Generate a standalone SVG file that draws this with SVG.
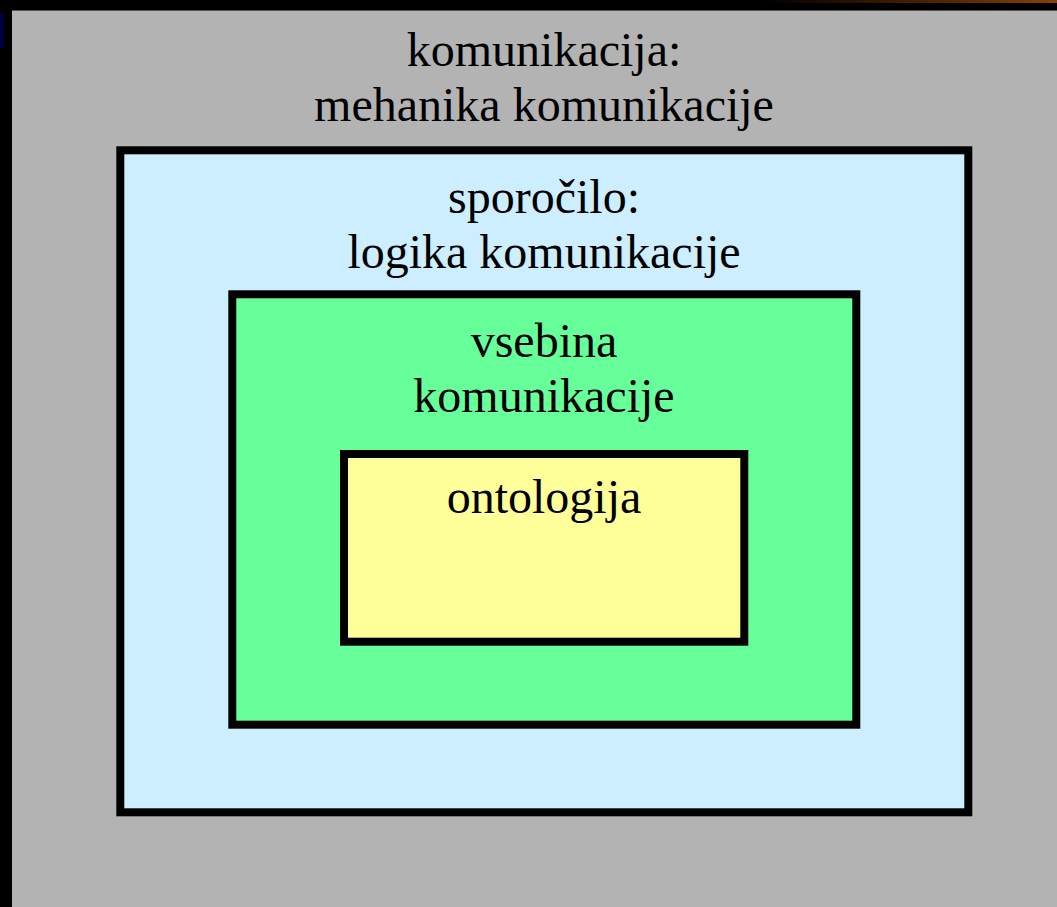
<svg xmlns="http://www.w3.org/2000/svg" width="1057" height="907" viewBox="0 0 1057 907">
<defs>
<linearGradient id="org" x1="0" y1="0" x2="1" y2="0">
<stop offset="0" stop-color="#7a3a00" stop-opacity="0"/>
<stop offset="1" stop-color="#8a4200"/>
</linearGradient>
</defs>
<style>
.box{stroke:#000;stroke-width:8}
.t{font-family:"Liberation Serif","Times New Roman",serif;font-size:48px;fill:#000;text-anchor:middle}
</style>
<rect x="0" y="0" width="1057" height="907" fill="#000"/>
<rect x="760" y="0" width="297" height="3" fill="url(#org)"/>
<rect x="0" y="13" width="4" height="35" fill="#000040"/>
<rect x="12" y="10" width="1045" height="897" fill="#b3b3b3"/>
<line x1="12" y1="10.5" x2="1057" y2="10.5" stroke="#555" stroke-width="1"/>
<g id="komunikacija">
<text class="t" x="544" y="66">komunikacija:</text>
<text class="t" x="544" y="121">mehanika komunikacije</text>
</g>
<g id="sporocilo">
<rect class="box" x="120.3" y="150.3" width="848" height="662" fill="#cceeff"/>
<text class="t" x="544" y="213">sporočilo:</text>
<text class="t" x="544" y="268">logika komunikacije</text>
</g>
<g id="vsebina">
<rect class="box" x="232.3" y="294.3" width="624" height="430.4" fill="#66ff99"/>
<text class="t" x="544" y="357">vsebina</text>
<text class="t" x="544" y="412">komunikacije</text>
</g>
<g id="ontologija">
<rect class="box" x="344" y="454" width="400.3" height="187.7" fill="#ffff99"/>
<text class="t" x="544" y="513">ontologija</text>
</g>
<g id="connectors"/>
</svg>
